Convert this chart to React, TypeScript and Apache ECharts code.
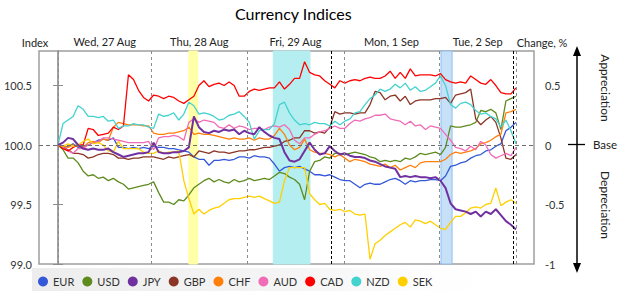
import React, { useEffect, useRef } from "react";
import * as echarts from "echarts";

// ---- data (change in % vs. base, one sample per step) ----
const currencies = ["EUR", "USD", "JPY", "GBP", "CHF", "AUD", "CAD", "NZD", "SEK"];
const seriesColors = ["#3458d8", "#5e8b1e", "#7030a0", "#8b3526", "#ff7f0a", "#f06cb6", "#ff0000", "#43d3cf", "#ffd000"];

const EUR = [0, -0.02, -0.01, 0.01, -0.02, -0.01, 0.0, 0.02, 0.04, 0.05, 0.04, 0.06, -0.02, -0.02, -0.03, -0.02,
  -0.03, -0.02, -0.03, -0.01, -0.02, -0.02, -0.03, -0.03, -0.04, -0.05, -0.06, -0.1, -0.12, -0.12, -0.17, -0.13,
  -0.13, -0.12, -0.13, -0.12, -0.1, -0.1, -0.11, -0.09, -0.1, -0.1, -0.11, -0.16, -0.22, -0.19, -0.18, -0.19,
  -0.18, -0.2, -0.22, -0.25, -0.25, -0.26, -0.25, -0.27, -0.29, -0.3, -0.3, -0.33, -0.36, -0.33, -0.32, -0.33,
  -0.33, -0.31, -0.29, -0.28, -0.3, -0.33, -0.3, -0.31, -0.3, -0.3, -0.29, -0.29, -0.3, -0.26, -0.18, -0.17,
  -0.15, -0.14, -0.11, -0.09, -0.08, -0.05, -0.04, -0.01, 0.01, 0.12, 0.15, 0.19];
const USD = [0, -0.04, -0.11, -0.11, -0.15, -0.22, -0.26, -0.25, -0.28, -0.27, -0.3, -0.28, -0.31, -0.33, -0.37, -0.36,
  -0.35, -0.34, -0.33, -0.31, -0.4, -0.48, -0.48, -0.5, -0.46, -0.47, -0.42, -0.36, -0.33, -0.3, -0.28, -0.31,
  -0.29, -0.31, -0.32, -0.29, -0.31, -0.3, -0.28, -0.3, -0.29, -0.28, -0.29, -0.26, -0.23, -0.24, -0.27, -0.29,
  -0.33, -0.46, -0.22, -0.14, -0.13, -0.1, -0.11, -0.07, -0.07, -0.08, -0.07, -0.06, -0.07, -0.08, -0.1, -0.11,
  -0.14, -0.13, -0.14, -0.13, -0.14, -0.11, -0.12, -0.1, -0.07, -0.08, -0.07, -0.06, -0.08, -0.02, 0.16, 0.15,
  0.15, 0.16, 0.17, 0.19, 0.29, 0.28, 0.3, 0.27, 0.13, 0.37, 0.39, 0.41];
const JPY = [0, 0.02, 0.06, 0.05, 0.0, -0.03, -0.04, -0.03, -0.04, -0.04, -0.03, -0.06, -0.08, -0.1, -0.09, -0.08,
  -0.07, -0.07, -0.06, 0.02, -0.06, -0.07, -0.07, -0.06, -0.06, -0.05, -0.02, 0.24, 0.15, 0.11, 0.1, 0.12,
  0.11, 0.13, 0.12, 0.13, 0.09, 0.12, 0.1, 0.09, 0.15, 0.11, 0.08, 0.06, 0.05, -0.06, -0.13, -0.14,
  -0.12, -0.05, 0.02, -0.04, -0.08, -0.07, -0.01, -0.05, -0.08, -0.07, -0.09, -0.1, -0.1, -0.11, -0.13, -0.14,
  -0.16, -0.18, -0.19, -0.2, -0.27, -0.26, -0.27, -0.26, -0.27, -0.27, -0.28, -0.27, -0.3, -0.36, -0.49, -0.54,
  -0.55, -0.56, -0.58, -0.56, -0.6, -0.56, -0.58, -0.54, -0.59, -0.64, -0.67, -0.71];
const GBP = [0, -0.02, -0.04, -0.07, -0.07, -0.08, -0.11, -0.1, -0.08, -0.07, -0.07, -0.08, -0.11, -0.11, -0.12, -0.11,
  -0.11, -0.1, -0.1, -0.1, -0.11, -0.12, -0.1, -0.11, -0.1, -0.09, -0.08, -0.1, -0.05, -0.06, -0.07, -0.05,
  -0.06, -0.06, -0.07, -0.06, -0.05, -0.05, -0.04, -0.04, -0.03, -0.02, -0.02, -0.01, 0.0, 0.03, 0.04, 0.06,
  0.06, 0.12, 0.12, 0.1, 0.11, 0.1, 0.15, 0.28, 0.26, 0.27, 0.27, 0.26, 0.27, 0.27, 0.34, 0.45,
  0.44, 0.38, 0.41, 0.42, 0.37, 0.41, 0.34, 0.37, 0.38, 0.38, 0.38, 0.39, 0.39, 0.4, 0.35, 0.42,
  0.43, 0.44, 0.47, 0.22, 0.17, 0.21, 0.24, 0.19, 0.06, -0.11, -0.12, -0.08];
const CHF = [0, -0.01, -0.02, 0.0, -0.01, -0.02, 0.02, 0.03, 0.02, 0.05, 0.04, 0.15, 0.19, 0.18, 0.17, 0.17,
  0.17, 0.16, 0.16, 0.1, 0.09, 0.09, 0.1, 0.1, 0.11, 0.12, 0.15, 0.09, 0.1, 0.09, 0.09, 0.08,
  0.07, 0.06, 0.05, 0.06, 0.05, 0.05, 0.06, 0.04, 0.06, 0.05, 0.05, 0.08, 0.14, 0.09, 0.0, -0.04,
  -0.02, 0.05, -0.04, -0.06, -0.07, -0.07, -0.08, -0.1, -0.08, -0.11, -0.14, -0.12, -0.13, -0.14, -0.16, -0.17,
  -0.18, -0.16, -0.19, -0.17, -0.21, -0.19, -0.17, -0.19, -0.15, -0.14, -0.14, -0.14, -0.14, -0.12, -0.08, -0.06,
  -0.07, -0.06, -0.05, -0.03, 0.01, 0.02, 0.04, 0.07, 0.09, 0.27, 0.28, 0.3];
const AUD = [0, -0.02, -0.05, -0.07, -0.03, -0.03, 0.0, 0.02, 0.03, 0.06, 0.06, 0.05, 0.04, 0.03, 0.02, 0.02,
  0.02, 0.02, 0.03, -0.04, 0.06, 0.07, 0.07, 0.08, 0.07, 0.04, 0.19, 0.22, 0.19, 0.21, 0.2, 0.19,
  0.15, 0.14, 0.17, 0.14, 0.16, 0.15, 0.13, 0.14, 0.14, 0.13, 0.15, 0.16, 0.15, 0.17, 0.13, 0.04,
  0.01, 0.06, 0.06, 0.09, 0.11, 0.12, 0.14, 0.16, 0.14, 0.14, 0.18, 0.21, 0.2, 0.22, 0.23, 0.25,
  0.25, 0.26, 0.22, 0.21, 0.2, 0.17, 0.2, 0.16, 0.17, 0.13, 0.16, 0.15, 0.14, 0.09, 0.04, -0.02,
  -0.03, -0.05, -0.01, -0.04, 0.03, 0.0, -0.08, -0.11, -0.09, -0.07, -0.09, -0.02];
const CAD = [0, -0.03, -0.05, -0.02, 0.0, 0.0, 0.14, 0.13, 0.08, 0.09, 0.1, 0.15, 0.13, 0.16, 0.59, 0.55,
  0.46, 0.4, 0.37, 0.42, 0.41, 0.39, 0.41, 0.4, 0.37, 0.35, 0.38, 0.41, 0.5, 0.54, 0.49, 0.51,
  0.52, 0.5, 0.53, 0.5, 0.41, 0.41, 0.45, 0.47, 0.46, 0.47, 0.48, 0.48, 0.53, 0.47, 0.51, 0.56,
  0.56, 0.7, 0.61, 0.59, 0.58, 0.54, 0.51, 0.48, 0.54, 0.52, 0.54, 0.55, 0.54, 0.56, 0.57, 0.56,
  0.56, 0.58, 0.62, 0.56, 0.61, 0.56, 0.64, 0.58, 0.59, 0.59, 0.59, 0.58, 0.6, 0.55, 0.53, 0.52,
  0.53, 0.52, 0.58, 0.55, 0.52, 0.51, 0.55, 0.5, 0.44, 0.43, 0.43, 0.48];
const NZD = [0, 0.18, 0.21, 0.24, 0.33, 0.3, 0.24, 0.24, 0.23, 0.24, 0.2, 0.21, 0.14, 0.16, 0.16, 0.18,
  0.17, 0.17, 0.15, 0.14, 0.26, 0.24, 0.25, 0.27, 0.21, 0.26, 0.36, 0.33, 0.26, 0.27, 0.26, 0.24,
  0.21, 0.22, 0.25, 0.26, 0.28, 0.24, 0.19, 0.05, 0.12, 0.13, 0.13, 0.18, 0.34, 0.36, 0.27, 0.21,
  0.17, 0.18, 0.17, 0.19, 0.18, 0.18, 0.16, 0.2, 0.17, 0.2, 0.22, 0.27, 0.28, 0.34, 0.39, 0.42,
  0.47, 0.45, 0.47, 0.51, 0.48, 0.52, 0.46, 0.49, 0.45, 0.46, 0.49, 0.52, 0.58, 0.5, 0.34, 0.31,
  0.35, 0.36, 0.34, 0.29, 0.26, 0.27, 0.24, 0.22, 0.15, 0.21, 0.12, 0.01];
const SEK = [0, -0.01, 0.01, -0.01, 0.0, 0.03, 0.05, 0.01, 0.02, 0.0, -0.05, -0.06, 0.03, -0.03, -0.03, -0.03,
  -0.03, -0.06, -0.07, -0.07, -0.05, -0.07, -0.06, -0.06, -0.05, -0.3, -0.45, -0.58, -0.54, -0.58, -0.55, -0.53,
  -0.52, -0.49, -0.46, -0.45, -0.45, -0.44, -0.43, -0.44, -0.43, -0.45, -0.47, -0.49, -0.48, -0.3, -0.19, -0.19,
  -0.19, -0.19, -0.41, -0.46, -0.5, -0.49, -0.54, -0.55, -0.54, -0.56, -0.55, -0.58, -0.59, -0.58, -0.96, -0.83,
  -0.8, -0.76, -0.73, -0.7, -0.67, -0.65, -0.69, -0.63, -0.64, -0.66, -0.64, -0.67, -0.7, -0.71, -0.65, -0.6,
  -0.6, -0.57, -0.53, -0.52, -0.53, -0.5, -0.49, -0.36, -0.51, -0.48, -0.46, -0.49];

const seriesValues = [EUR, USD, JPY, GBP, CHF, AUD, CAD, NZD, SEK];

// time markers in sample units
const dayBounds = [0, 18.6, 37.55, 56.82, 75.7, 91.1];
const dayLabels = ["Wed, 27 Aug", "Thu, 28 Aug", "Fri, 29 Aug", "Mon, 1 Sep", "Tue, 2 Sep"];
const closeMarks = [54.24, 90.46];
const highlightBands = [
  { from: 26.0, to: 27.76, color: "#ffffa8", border: "#ffffa8" },
  { from: 42.78, to: 50.07, color: "#b4eef0", border: "#b4eef0" },
  { from: 76.1, to: 78.3, color: "#c6e0f8", border: "#8ebfef" },
];

const indexTicks = [99, 99.5, 100, 100.5];
const changeTicks = [-1, -0.5, 0, 0.5];

const X_MIN = -3.775;
const X_MAX = 94.58;

const FONT = "Lato, 'Open Sans', sans-serif";

export default function App() {
  const ref = useRef<HTMLDivElement>(null);
  useEffect(() => {
    document.body.style.margin = "0";
    if (!ref.current) return;
    const chart = echarts.init(ref.current, undefined, { renderer: "svg" });
    const dayMids = dayLabels.map((_, i) => (dayBounds[i] + dayBounds[i + 1]) / 2);

    const series: any[] = currencies.map((name, k) => ({
      name,
      type: "line",
      xAxisIndex: 0,
      yAxisIndex: 1,
      showSymbol: false,
      symbol: "none",
      data: seriesValues[k].map((v, i) => [i, v]),
      lineStyle: { width: name === "JPY" ? 2 : 1.3, color: seriesColors[k] },
      itemStyle: { color: seriesColors[k] },
      z: name === "JPY" ? 4 : 3,
      silent: true,
    }));

    series.unshift({
      name: "markers",
      type: "line",
      xAxisIndex: 0,
      yAxisIndex: 1,
      data: [],
      silent: true,
      markArea: {
        silent: true,
        data: highlightBands.map((b) => [
          { xAxis: b.from, itemStyle: { color: b.color, borderColor: b.border, borderWidth: 1 } },
          { xAxis: b.to },
        ]),
      },
      markLine: {
        silent: true,
        symbol: "none",
        label: { show: false },
        data: [
          ...dayBounds.map((d) => ({ xAxis: d, lineStyle: { color: "#8c8c8c", type: [3, 3], width: 1 } })),
          ...closeMarks.map((d) => ({ xAxis: d, lineStyle: { color: "#000", type: [3, 2], width: 1 } })),
          { yAxis: 0, lineStyle: { color: "#6e6e6e", type: [4, 3], width: 1 } },
        ],
      },
    });

    chart.setOption({
      animation: false,
      textStyle: { fontFamily: FONT },
      title: {
        text: "Currency Indices",
        left: 230,
        top: 0,
        textStyle: { fontFamily: FONT, fontSize: 16, fontWeight: "normal", color: "#000" },
      },
      legend: {
        data: currencies,
        icon: "circle",
        itemWidth: 10,
        itemHeight: 10,
        itemGap: 8,
        left: 33,
        top: 271,
        selectedMode: false,
        textStyle: { fontFamily: FONT, fontSize: 11, color: "#333", width: 26 },
      },
      grid: {
        left: 39,
        right: 91,
        top: 51,
        bottom: 27,
        show: true,
        borderColor: "#9e9e9e",
        borderWidth: 1.5,
        backgroundColor: "transparent",
      },
      xAxis: [
        {
          type: "value",
          min: X_MIN,
          max: X_MAX,
          position: "bottom",
          axisLine: { show: false },
          axisTick: { show: false },
          axisLabel: { show: false },
          splitLine: { show: false },
        },
        {
          type: "value",
          min: X_MIN,
          max: X_MAX,
          position: "top",
          axisLine: { show: false },
          axisTick: { show: false },
          splitLine: { show: false },
          axisLabel: {
            customValues: dayMids,
            margin: 4,
            fontSize: 11,
            color: "#222",
            fontFamily: FONT,
            formatter: (v: number) => {
              let best = 0;
              dayMids.forEach((m, i) => {
                if (Math.abs(m - v) < Math.abs(dayMids[best] - v)) best = i;
              });
              return dayLabels[best];
            },
          },
        },
      ],
      yAxis: [
        {
          type: "value",
          position: "left",
          min: 99,
          max: 100.79,
          axisLine: { show: true, lineStyle: { color: "#8c8c8c", width: 1.5 } },
          axisTick: { show: true, length: 5, customValues: indexTicks, lineStyle: { color: "#8c8c8c" } },
          axisLabel: {
            customValues: indexTicks,
            margin: 7,
            fontSize: 11,
            color: "#333",
            fontFamily: FONT,
            formatter: (v: number) => v.toFixed(1),
          },
          splitLine: { show: false },
        },
        {
          type: "value",
          position: "right",
          min: -1,
          max: 0.79,
          axisLine: { show: true, lineStyle: { color: "#9e9e9e", width: 1.5 } },
          axisTick: { show: true, length: 5, customValues: changeTicks, lineStyle: { color: "#8c8c8c" } },
          axisLabel: {
            customValues: changeTicks,
            margin: 11,
            fontSize: 11,
            color: "#333",
            fontFamily: FONT,
            formatter: (v: number) => String(v),
          },
          splitLine: { show: false },
        },
      ],
      graphic: [
        {
          type: "rect",
          z: -10,
          silent: true,
          shape: { x: 32, y: 268, width: 480, height: 23 },
          style: {
            fill: new echarts.graphic.LinearGradient(0, 0, 1, 0, [
              { offset: 0, color: "#ededed" },
              { offset: 0.6, color: "#f6f6f6" },
              { offset: 1, color: "rgba(255,255,255,0)" },
            ]),
          },
        },
        {
          type: "text",
          silent: true,
          x: 35,
          y: 42,
          style: { text: "Index", fontSize: 11, fontFamily: FONT, fill: "#222", verticalAlign: "middle", align: "center" },
        },
        {
          type: "text",
          silent: true,
          x: 542,
          y: 42,
          style: { text: "Change, %", fontSize: 11, fontFamily: FONT, fill: "#222", verticalAlign: "middle", align: "center" },
        },
        {
          type: "line",
          silent: true,
          shape: { x1: 577, y1: 54, x2: 577, y2: 265 },
          style: { stroke: "#000", lineWidth: 1.5 },
        },
        {
          type: "polygon",
          silent: true,
          shape: { points: [[577, 46], [573, 56], [581, 56]] },
          style: { fill: "#000" },
        },
        {
          type: "polygon",
          silent: true,
          shape: { points: [[577, 273], [573, 263], [581, 263]] },
          style: { fill: "#000" },
        },
        {
          type: "line",
          silent: true,
          shape: { x1: 568, y1: 144.5, x2: 585, y2: 144.5 },
          style: { stroke: "#000", lineWidth: 1.3 },
        },
        {
          type: "text",
          silent: true,
          x: 593,
          y: 144.5,
          style: { text: "Base", fontSize: 11.5, fontFamily: FONT, fill: "#222", verticalAlign: "middle", align: "left" },
        },
        {
          type: "text",
          silent: true,
          x: 605,
          y: 88,
          rotation: -Math.PI / 2,
          style: { text: "Appreciation", fontSize: 12, fontFamily: FONT, fill: "#222", verticalAlign: "middle", align: "center" },
        },
        {
          type: "text",
          silent: true,
          x: 605,
          y: 205,
          rotation: -Math.PI / 2,
          style: { text: "Depreciation", fontSize: 12, fontFamily: FONT, fill: "#222", verticalAlign: "middle", align: "center" },
        },
      ],
      series,
    });
    return () => chart.dispose();
  }, []);
  return <div ref={ref} style={{ width: 625, height: 291 }} />;
}
